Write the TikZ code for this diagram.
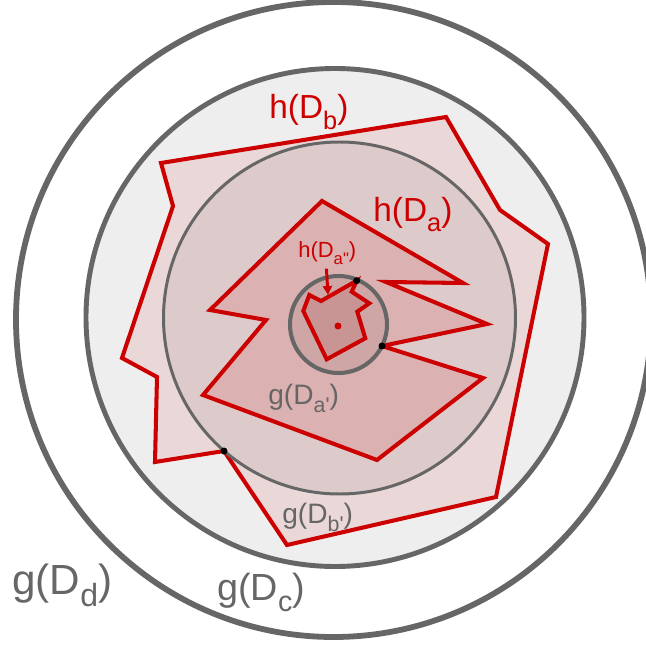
\documentclass[tikz,border=0pt]{standalone}
\usepackage{fontspec}
\setmainfont{Liberation Sans}
\usepackage{xcolor}
\usepackage{graphicx}
\usetikzlibrary{arrows.meta}

\definecolor{gline}{HTML}{666666}
\definecolor{hred}{HTML}{CC0000}
\definecolor{fillDc}{HTML}{EEEEEE}
\definecolor{fillHb}{HTML}{EAD7D7}
\definecolor{fillDb}{HTML}{DDCACA}
\definecolor{fillHa}{HTML}{DBB1B1}
\definecolor{fillDa}{HTML}{CFA6A6}
\definecolor{fillHaa}{HTML}{C99494}

\newcommand{\subtxt}[1]{\raisebox{-0.3em}{\scalebox{0.76}{#1}}}

\begin{document}
\begin{tikzpicture}[
    x=0.02cm, y=-0.02cm,
    gcircle/.style={draw=gline},
    hpoly/.style={draw=hred, line width=2.3pt},
    glabel/.style={text=gline, anchor=base west, inner sep=0pt},
    hlabel/.style={text=hred, anchor=base west, inner sep=0pt},
    touch/.style={fill=black},
    pointer/.style={draw=hred, line width=1.7pt, -{Triangle[length=1.8mm, width=1.8mm]}},
]
\useasboundingbox (0,0) rectangle (646,645);

% Outer discs
\draw[gcircle, fill=white, line width=3.3pt] (333.5,319.5) circle (317.5);
\draw[gcircle, fill=fillDc, line width=2.8pt] (335,317.5) circle (249);

% h(D_b)
\draw[hpoly, fill=fillHb] (161,163) -- (446,117) -- (500,210) -- (548,244) -- (496,497)
    -- (287,545) -- (224,451) -- (155,462) -- (157,377) -- (122,358) -- (173,206) -- cycle;

% g(D_b')
\draw[gcircle, fill=fillDb, line width=1.7pt] (339.5,318) circle (176);

% h(D_a)
\draw[hpoly, fill=fillHa] (322,201) -- (463,283) -- (386,282) -- (487,324) -- (382,346)
    -- (483,378) -- (377,460) -- (203,395) -- (266,320) -- (210,310) -- cycle;

% g(D_a')
\draw[gcircle, fill=fillDa, line width=2.3pt] (338.5,324.5) circle (48.5);

% h(D_a'')
\draw[hpoly, fill=fillHaa] (356.7,280.7) -- (351.7,291.7) -- (369.3,303.3) -- (357.3,311.7)
    -- (365.3,338.3) -- (326.7,359.3) -- (303.3,311) -- (309.3,295) -- (321,301) -- cycle;

% Touching points
\coordinate (tb) at (224,451);
\coordinate (ta) at (382,346);
\coordinate (taa) at (356.7,280.7);
\coordinate (ctr) at (338,326);
\fill[touch] (tb) circle (3.5);
\fill[touch] (ta) circle (3.5);
\fill[touch] (taa) circle (3.5);
\fill[hred] (ctr) circle (3.5);

% Labels
\node[hlabel, font=\fontsize{19}{22}\selectfont] (lblHb) at (269,119) {h(D\subtxt{b})};
\node[hlabel, font=\fontsize{19}{22}\selectfont] (lblHa) at (373,221.5) {h(D\subtxt{a})};
\node[hlabel, font=\fontsize{12.5}{15}\selectfont] (lblHaa) at (298,258) {h(D\subtxt{a\textquotedbl})};
\node[glabel, font=\fontsize{16}{19}\selectfont] (lblGa) at (268,404) {g(D\subtxt{a\textquotesingle})};
\node[glabel, font=\fontsize{16}{19}\selectfont] (lblGb) at (282,523) {g(D\subtxt{b\textquotesingle})};
\node[glabel, font=\fontsize{21.5}{25}\selectfont] (lblGc) at (217,600.5) {g(D\subtxt{c})};
\node[glabel, font=\fontsize{24}{28}\selectfont] (lblGd) at (12,594) {g(D\subtxt{d})};

% Pointer to h(D_a'')
\coordinate (ptrEnd) at (328,295);
\draw[pointer] ([xshift=-0.5pt, yshift=-2pt]lblHaa.south) -- (ptrEnd);

\end{tikzpicture}
\end{document}
